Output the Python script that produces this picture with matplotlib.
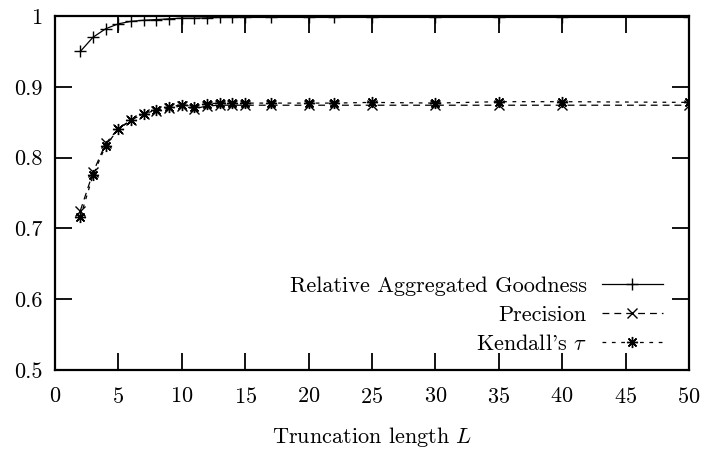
import numpy as np
import matplotlib
matplotlib.use("Agg")
import matplotlib.pyplot as plt

plt.rcParams["font.family"] = "serif"
plt.rcParams["font.serif"] = ["cmr10"]
plt.rcParams["mathtext.fontset"] = "cm"
plt.rcParams["axes.formatter.use_mathtext"] = True

L = [2, 3, 4, 5, 6, 7, 8, 9, 10, 11, 12, 13, 14, 15, 17, 20, 22, 25, 30, 35, 40, 50]
goodness = [0.950, 0.970, 0.982, 0.989, 0.9925, 0.994, 0.995, 0.996, 0.997, 0.997,
            0.9975, 0.998, 0.998, 0.998, 0.998, 0.998, 0.998, 0.998, 0.998, 0.998,
            0.998, 0.998]
precision = [0.725, 0.779, 0.820, 0.841, 0.853, 0.862, 0.866, 0.870, 0.873, 0.869,
             0.873, 0.874, 0.874, 0.874, 0.874, 0.874, 0.874, 0.874, 0.874, 0.874,
             0.874, 0.874]
kendall = [0.716, 0.775, 0.817, 0.840, 0.853, 0.862, 0.867, 0.871, 0.875, 0.872,
           0.876, 0.877, 0.877, 0.877, 0.877, 0.877, 0.877, 0.878, 0.877, 0.879,
           0.879, 0.878]

xticks = [0, 5, 10, 15, 20, 25, 30, 35, 40, 45, 50]
yticks = [0.5, 0.6, 0.7, 0.8, 0.9, 1.0]
ytick_labels = ["0.5", "0.6", "0.7", "0.8", "0.9", "1"]

fig = plt.figure(figsize=(7.03, 4.5), dpi=100)
ax = fig.add_axes([0.0782, 0.1778, 0.9018, 0.7866])

ax.plot(L, goodness, color="black", lw=0.9, marker="+", ms=8, mew=1.0,
        label="Relative Aggregated Goodness")
ax.plot(L, precision, color="black", lw=0.9, marker="x", ms=6.5, mew=1.0,
        dashes=(5.5, 4), label="Precision")
ax.plot(L, kendall, color="black", lw=0.9, marker=(8, 2, 0), ms=8, mew=1.0,
        dashes=(3, 4.5), label=r"Kendall's $\tau$")

ax.set_xlim(0, 50)
ax.set_ylim(0.5, 1.0)
ax.set_xticks(xticks)
ax.set_yticks(yticks)
ax.set_yticklabels(ytick_labels)
ax.tick_params(direction="in", length=12, width=1.3, top=True, right=True,
               labelsize=16)
ax.tick_params(axis="x", pad=12)
ax.tick_params(axis="y", pad=9)
for s in ax.spines.values():
    s.set_linewidth(1.6)

ax.set_xlabel(r"Truncation length $L$", fontsize=16, labelpad=13)

leg = ax.legend(loc="lower right", bbox_to_anchor=(0.959, 0.045),
                markerfirst=False, frameon=False, fontsize=16,
                handlelength=2.75, labelspacing=0.42, handletextpad=0.68,
                borderaxespad=0, borderpad=0)
for t in leg.get_texts():
    t.set_ha("right")
leg._legend_box.align = "right"

fig.savefig("out.png", dpi=100)
